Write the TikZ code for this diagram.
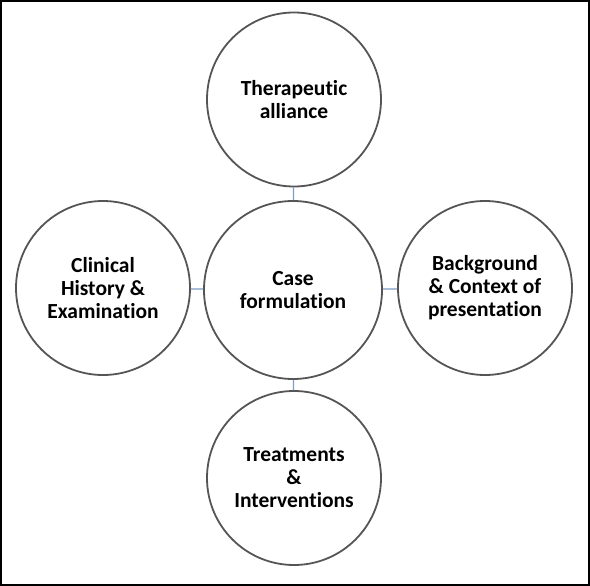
\documentclass[tikz,border=0pt]{standalone}
\usepackage{fontspec}
\setmainfont{Carlito}[Ligatures=NoCommon]
\usepackage{xcolor}
\usepackage{tikz}
\definecolor{ringgray}{RGB}{85,85,85}
\definecolor{linkblue}{RGB}{125,155,195}
\tikzset{
  topic/.style={draw=ringgray, line width=1.8pt, circle, minimum size=174pt, inner sep=0pt,
    align=center, font=\fontsize{21.5}{23}\selectfont\bfseries},
  link/.style={draw=linkblue, line width=1.2pt}
}

\begin{document}
\begin{tikzpicture}[x=1pt, y=-1pt]
\useasboundingbox (0, 0) rectangle (590, 586);
  \draw[line width=1.6pt] (0.8, 0.8) rectangle (589.2, 585.2); %frame
  \node[topic, minimum size=178pt] (case) at (293, 290) {Case\\formulation}; %centre
  \node[topic] (alliance) at (294, 99.5) {Therapeutic\\alliance}; %top
  \node[topic] (history) at (103, 288) {Clinical\\History \&\\Examination}; %left
  \node[topic] (context) at (485, 288) {Background\\\& Context of\\presentation}; %right
  \node[topic] (treat) at (294, 478) {Treatments\\\&\\Interventions}; %bottom
  \draw[link] (alliance) -- (case);
  \draw[link] (history) -- (case);
  \draw[link] (context) -- (case);
  \draw[link] (treat) -- (case);
\end{tikzpicture}
\end{document}
